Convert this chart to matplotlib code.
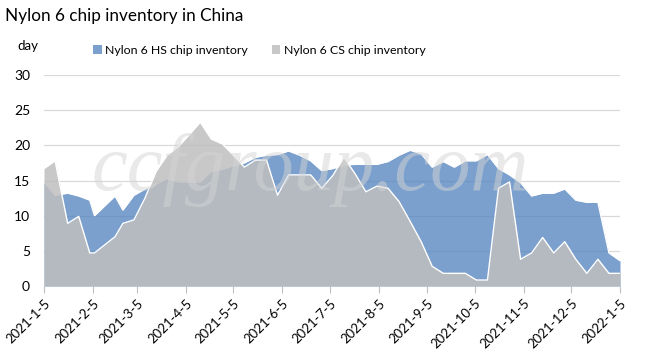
import matplotlib
matplotlib.use('Agg')
import matplotlib.pyplot as plt
from matplotlib.patches import Patch
import pandas as pd

plt.rcParams['font.family'] = ['Lato', 'DejaVu Sans']

# weekly observation dates (irregular around Chinese New Year)
DATES = [
    "2021-01-05", "2021-01-12", "2021-01-20", "2021-01-27", "2021-02-03",
    "2021-02-06", "2021-02-19", "2021-02-24", "2021-03-03", "2021-03-10",
    "2021-03-17", "2021-03-24", "2021-03-31", "2021-04-07", "2021-04-14",
    "2021-04-21", "2021-04-28", "2021-05-05", "2021-05-12", "2021-05-19",
    "2021-05-26", "2021-06-02", "2021-06-09", "2021-06-16", "2021-06-23",
    "2021-06-30", "2021-07-07", "2021-07-14", "2021-07-21", "2021-07-28",
    "2021-08-04", "2021-08-11", "2021-08-18", "2021-08-25", "2021-09-01",
    "2021-09-08", "2021-09-15", "2021-09-22", "2021-09-29", "2021-10-06",
    "2021-10-13", "2021-10-20", "2021-10-27", "2021-11-03", "2021-11-10",
    "2021-11-17", "2021-11-24", "2021-12-01", "2021-12-08", "2021-12-15",
    "2021-12-22", "2021-12-29", "2022-01-05",
]

# Nylon 6 HS chip inventory (days)
HS = [14.8, 12.9, 13.2, 12.8, 12.2, 10.0, 12.8, 10.8, 12.9, 13.8,
      14.5, 15.3, 14.8, 14.8, 14.8, 16.3, 16.6, 17.1, 17.5, 18.3,
      18.6, 18.7, 19.2, 18.6, 17.8, 16.4, 16.7, 17.2, 17.3, 17.3,
      17.3, 17.7, 18.6, 19.3, 18.8, 16.9, 17.7, 16.9, 17.8, 17.8,
      18.7, 16.7, 15.8, 14.7, 12.8, 13.2, 13.2, 13.8, 12.2, 11.9,
      11.9, 4.7, 3.6]

# Nylon 6 CS chip inventory (days)
CS = [16.7, 17.8, 8.9, 9.9, 4.7, 4.7, 7.0, 8.9, 9.4, 12.5,
      16.3, 18.6, 19.8, 21.5, 23.3, 20.9, 20.2, 18.6, 16.9, 17.9,
      17.9, 12.9, 15.8, 15.8, 15.8, 13.9, 15.7, 18.3, 16.0, 13.4,
      14.2, 13.9, 12.0, 9.2, 6.3, 2.8, 1.8, 1.8, 1.8, 0.85,
      0.85, 13.9, 14.8, 3.8, 4.7, 6.9, 4.7, 6.3, 3.8, 1.8,
      3.8, 1.8, 1.8]

TICK_DATES = ["2021-01-05", "2021-02-05", "2021-03-05", "2021-04-05",
              "2021-05-05", "2021-06-05", "2021-07-05", "2021-08-05",
              "2021-09-05", "2021-10-05", "2021-11-05", "2021-12-05",
              "2022-01-05"]
TICK_LABELS = ["2021-1-5", "2021-2-5", "2021-3-5", "2021-4-5", "2021-5-5",
               "2021-6-5", "2021-7-5", "2021-8-5", "2021-9-5", "2021-10-5",
               "2021-11-5", "2021-12-5", "2022-1-5"]
SERIES_NAMES = ["Nylon 6 HS chip inventory", "Nylon 6 CS chip inventory"]

BLUE = "#4F81BD"
GRAY = "#BFBFBF"

fig = plt.figure(figsize=(6.47, 3.55), dpi=100)
ax = fig.add_axes([44 / 647, 1 - 286 / 355, 576 / 647, 211 / 355])

x = pd.to_datetime(DATES)
ax.fill_between(x, HS, color=BLUE, alpha=0.75, lw=0, zorder=2)
ax.plot(x, HS, color="white", lw=1, zorder=2.1)
ax.fill_between(x, CS, color=GRAY, alpha=0.86, lw=0, zorder=3)
ax.plot(x, CS, color="white", lw=1, zorder=3.1)

ax.set_xlim(pd.Timestamp(TICK_DATES[0]), pd.Timestamp(TICK_DATES[-1]))
ax.set_ylim(0, 30)
ax.set_yticks(range(0, 31, 5))
ax.yaxis.grid(True, color="#D9D9D9", lw=0.9)
ax.set_axisbelow(True)
for s in ax.spines.values():
    s.set_visible(False)

ax.set_xticks(pd.to_datetime(TICK_DATES))
ax.set_xticklabels(TICK_LABELS, rotation=45, ha="right", rotation_mode="anchor")
ax.tick_params(axis="x", length=5, color="#BFBFBF", labelsize=9.5, pad=3)
ax.tick_params(axis="y", length=0, labelsize=10, pad=10)

fig.text(5 / 647, 1 - 16 / 355, "Nylon 6 chip inventory in China",
         fontsize=12.3, va="center", ha="left")
fig.text(17 / 647, 1 - 46 / 355, "day", fontsize=9.5, va="center", ha="left")

handles = [Patch(facecolor=BLUE, alpha=0.75), Patch(facecolor=GRAY, alpha=0.86)]
fig.legend(handles, SERIES_NAMES, loc="center left",
           bbox_to_anchor=(88 / 647, 1 - 50 / 355), ncol=2, frameon=False,
           handlelength=0.7, handleheight=0.7, handletextpad=0.3,
           columnspacing=1.9, fontsize=8.9, borderaxespad=0)

# faint watermark
fig.text(92 / 647, 1 - 190 / 355, "ccfgroup.com", family="Liberation Serif",
         style="italic", fontsize=58, color="#D4D4D4", alpha=0.5,
         va="baseline", ha="left")

fig.savefig("out.png", dpi=100)
